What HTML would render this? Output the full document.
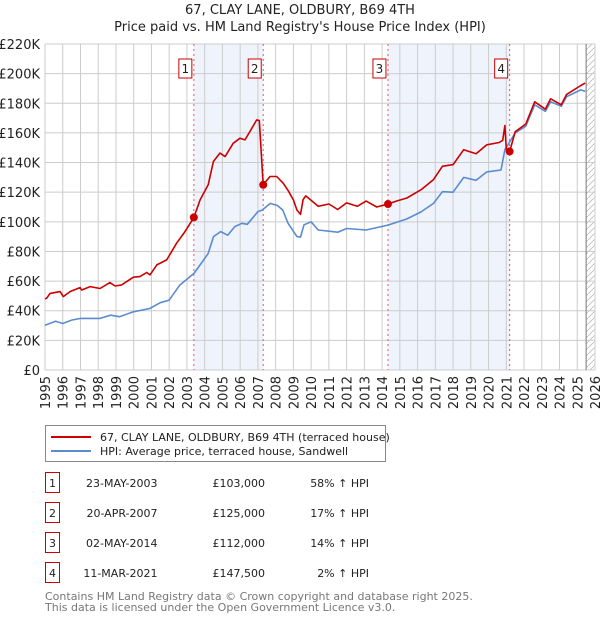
<!DOCTYPE html>
<html><head><meta charset="utf-8"><style>
body{margin:0;background:#fff;font-family:"Liberation Sans","DejaVu Sans",sans-serif;}
#wrap{position:relative;width:600px;height:620px;overflow:hidden}
svg text{font-family:"DejaVu Sans","Liberation Sans",sans-serif}
</style></head><body><div id="wrap">
<svg id="c" width="600" height="620"></svg>
</div>
<script>
const yTicks=[0,20,40,60,80,100,120,140,160,180,200,220];
const yTickLabels=["£0","£20K","£40K","£60K","£80K","£100K","£120K","£140K","£160K","£180K","£200K","£220K"];
const xYears=[1995,1996,1997,1998,1999,2000,2001,2002,2003,2004,2005,2006,2007,2008,2009,2010,2011,2012,2013,2014,2015,2016,2017,2018,2019,2020,2021,2022,2023,2024,2025,2026];
const saleLabels=["1","2","3","4"];
const saleYears=[2003.39,2007.30,2014.33,2021.19];
const salePrices=[103,125,112,147.5];
const saleDates=["23-MAY-2003","20-APR-2007","02-MAY-2014","11-MAR-2021"];
const salePriceText=["£103,000","£125,000","£112,000","£147,500"];
const saleHpiText=["58% ↑ HPI","17% ↑ HPI","14% ↑ HPI","2% ↑ HPI"];
const redYears=[1995.0,1995.09,1995.28,1995.85,1996.03,1996.41,1996.97,1997.07,1997.54,1998.1,1998.66,1998.95,1999.32,1999.98,2000.35,2000.73,2000.92,2001.3,2001.86,2002.42,2002.89,2003.39,2003.74,2004.2,2004.49,2004.86,2005.15,2005.61,2005.99,2006.27,2006.93,2007.08,2007.30,2007.68,2008.06,2008.43,2008.71,2009.0,2009.2,2009.4,2009.55,2009.7,2010.4,2011.0,2011.5,2012.0,2012.6,2013.1,2013.7,2014.33,2014.8,2015.4,2016.2,2016.9,2017.4,2018.0,2018.6,2019.3,2019.9,2020.6,2020.8,2020.92,2021.0,2021.19,2021.5,2022.1,2022.6,2023.2,2023.5,2024.1,2024.4,2025.2,2025.45];
const redValues=[48,48.4,51.7,52.9,49.5,52.9,55.6,54,56.3,55,59,56.7,57.4,62.6,63,65.8,64.2,70.9,74.3,85.6,93.4,103,114.8,125,140.7,146.4,144,153,156.4,155.3,168.8,168.4,125,130.6,130.6,126,121,114.8,108,105,115,117.5,110.5,112,108.3,112.8,110.5,114,110,112,114,116.1,121.7,128.5,137.5,138.6,148.7,146,152,153.5,155,165,149,147.5,160.8,166,181,176,183,179,186,192,193.6];
const hpiYears=[1995.0,1995.6,1996.0,1996.5,1997.0,1998.1,1998.7,1999.2,1999.98,2000.9,2001.5,2002.0,2002.6,2003.4,2003.8,2004.2,2004.5,2004.9,2005.3,2005.7,2006.1,2006.4,2007.0,2007.25,2007.7,2008.1,2008.4,2008.7,2009.2,2009.4,2009.6,2010.0,2010.4,2011.5,2012.0,2013.1,2014.33,2015.4,2016.2,2016.9,2017.4,2018.0,2018.6,2019.3,2019.9,2020.7,2020.92,2021.5,2022.1,2022.6,2023.2,2023.5,2024.1,2024.4,2025.2,2025.45];
const hpiValues=[30.2,32.9,31.4,33.7,34.8,34.8,37,36,39.3,41.5,45.4,47.2,57.3,65.2,71.9,78.7,90,93.4,91,96.8,99,98.3,106.9,108,112.4,111,108,99,90,89.7,98,100,94.5,93,95.5,94.5,97.8,102,106.7,112.4,120.3,120,130,128,133.7,135,148.7,160,164.5,179,174.6,181,178,184.5,189,188];

const NS="http://www.w3.org/2000/svg";
const svg=document.getElementById('c');
const L=45,R=595,T=44,B=370;
const X=y=>L+(y-1995)*(R-L)/31;
const Y=v=>B-v*(B-T)/220;
function el(tag,attrs,parent){const e=document.createElementNS(NS,tag);for(const k in attrs)e.setAttribute(k,attrs[k]);(parent||svg).appendChild(e);return e;}
function txt(s,attrs){const e=el('text',attrs);e.textContent=s;return e;}

// titles
let t=txt("67, CLAY LANE, OLDBURY, B69 4TH",{x:300,y:14,'text-anchor':'middle','font-size':13,fill:'#222'});


t=txt("Price paid vs. HM Land Registry's House Price Index (HPI)",{x:300,y:31,'text-anchor':'middle','font-size':13,fill:'#222'});



// shaded spans
for(let i=0;i<4;i+=2){
 const r=el('rect',{x:X(saleYears[i]),y:T,width:X(saleYears[i+1])-X(saleYears[i]),height:B-T,fill:'#eef3fc'});
 
 
}
// hatch after 2025.5
const defs=el('defs',{});
const pat=el('pattern',{id:'h',width:6,height:6,patternUnits:'userSpaceOnUse'},defs);
el('path',{d:'M0,6 L6,0',stroke:'#bbb','stroke-width':0.8},pat);
let hz=el('rect',{x:X(2025.5),y:T,width:R-X(2025.5),height:B-T,fill:'url(#h)'});



// grid
yTicks.forEach((v,i)=>{
 const g=el('line',{x1:L,x2:R,y1:Y(v),y2:Y(v),stroke:'#ccc','stroke-width':1});
 
 
 const lb=txt(yTickLabels[i],{x:40,y:Y(v)+5,'text-anchor':'end','font-size':13,fill:'#222'});
 
 
});
xYears.forEach(y=>{
 const g=el('line',{x1:X(y),x2:X(y),y1:T,y2:B,stroke:'#ccc','stroke-width':1});
 
 
 const lb=txt(String(y),{x:0,y:0,'text-anchor':'end','font-size':13,fill:'#222',transform:`translate(${X(y)+5},${B+6}) rotate(-90)`});
 
 
});
let vl=el('line',{x1:X(2025.5),x2:X(2025.5),y1:T,y2:B,stroke:'#777','stroke-width':1});



// sale lines & boxes
saleYears.forEach((y,i)=>{
 const d=el('line',{x1:X(y),x2:X(y),y1:T,y2:B,stroke:'#e55','stroke-width':1,'stroke-dasharray':'2,3'});
 
 
 const bx=el('rect',{x:X(y)-15,y:59,width:13,height:19,fill:'#fff',stroke:'#c00','stroke-width':1});
 
 
 const tt=txt(saleLabels[i],{x:X(y)-8.5,y:73,'text-anchor':'middle','font-size':12,fill:'#222'});
 
 
});

function line(xs,vs,color,name){
 const d=xs.map((y,i)=>(i?'L':'M')+X(y).toFixed(1)+','+Y(vs[i]).toFixed(1)).join(' ');
 const p=el('path',{d:d,fill:'none',stroke:color,'stroke-width':1.6,'stroke-linejoin':'round'});
 
 
}
line(hpiYears,hpiValues,'#5b8bd0','hpi-line');
line(redYears,redValues,'#cc0000','price-paid-line');
saleYears.forEach((y,i)=>{
 const c=el('circle',{cx:X(y),cy:Y(salePrices[i]),r:4,fill:'#cc0000'});
 
 
});

// legend
let lg=el('rect',{x:45.5,y:425.5,width:340,height:36,fill:'#fff',stroke:'#888','stroke-width':1});


let ll=el('line',{x1:51,x2:91,y1:437,y2:437,stroke:'#cc0000','stroke-width':2});


ll=el('line',{x1:51,x2:91,y1:451,y2:451,stroke:'#5b8bd0','stroke-width':2});


t=txt("67, CLAY LANE, OLDBURY, B69 4TH (terraced house)",{x:100,y:441,'font-size':11,fill:'#222'});


t=txt("HPI: Average price, terraced house, Sandwell",{x:100,y:455,'font-size':11,fill:'#222'});



// table
const rowY=[483,513,543,573];
rowY.forEach((ry,i)=>{
 const b=el('rect',{x:45.5,y:ry-10.5,width:14,height:20,fill:'#fff',stroke:'#c00','stroke-width':1});
 
 
 let a=txt(saleLabels[i],{x:52.5,y:ry+4,'text-anchor':'middle','font-size':11,fill:'#222'});
 
 
 a=txt(saleDates[i],{x:157.5,y:ry+4,'text-anchor':'end','font-size':11,fill:'#222'});
 
 
 a=txt(salePriceText[i],{x:265,y:ry+4,'text-anchor':'end','font-size':11,fill:'#222'});
 
 
 a=txt(saleHpiText[i],{x:369,y:ry+4,'text-anchor':'end','font-size':11,fill:'#222'});
 
 
});
t=txt("Contains HM Land Registry data © Crown copyright and database right 2025.",{x:45,y:600,'font-size':11,fill:'#777'});


t=txt("This data is licensed under the Open Government Licence v3.0.",{x:45,y:611,'font-size':11,fill:'#777'});


</script></body></html>
